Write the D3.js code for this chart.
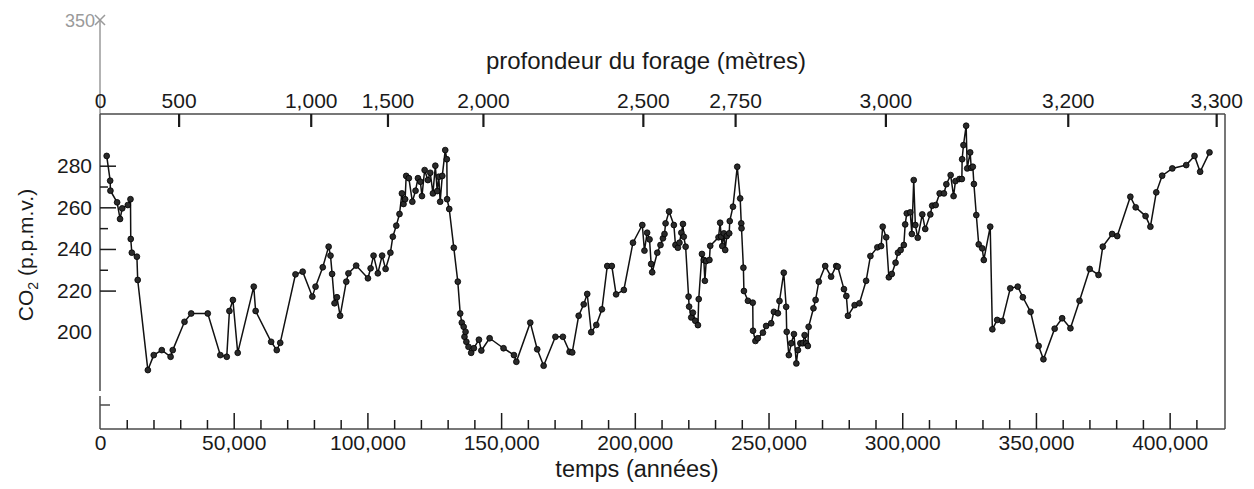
<!DOCTYPE html>
<html><head><meta charset="utf-8">
<script src="https://cdn.jsdelivr.net/npm/d3@7"></script>
<style>
html,body{margin:0;padding:0;background:#fff;}
svg{display:block;font-family:"Liberation Sans",Arial,Helvetica,sans-serif;}
</style></head>
<body><svg id="c" width="1254" height="489"></svg>
<script>
// ---- data ----
const ages = [
2500,3800,3900,6400,7500,8300,10400,11400,11500,11900,13800,14100,17900,20100,23100,26400,27200,31600,34100,40300,
45000,47400,48400,49700,51500,57500,58200,64000,66100,67400,
73100,75800,79400,80600,83300,85500,86200,86800,87700,88600,89800,92100,92900,95800,100200,101200,102300,103900,105500,106800,
108600,109500,110800,112000,112900,113500,114100,114500,115500,116800,118000,118900,119800,120400,121400,122600,123500,124500,125400,126100,
126700,127200,128000,129100,129700,129800,130600,132300,133800,134700,135300,136000,136300,136700,137000,137800,138800,139800,141700,142600,
145700,150900,154800,155700,160900,163500,165900,170300,173100,175600,176600,179000,180900,182200,183700,185600,187700,189700,191400,193000,
195900,199300,202800,203600,204600,205500,206100,206500,208400,209600,210500,211100,211500,212800,
214600,215200,216100,216700,217400,218000,218300,219000,220100,220300,221100,221700,222600,223600,223900,225100,225800,226200,226700,227900,
228200,231300,231900,232300,232700,233300,233800,234400,235300,235500,236700,238300,239400,239800,239900,240600,240800,242300,244100,244200,
245100,246000,247900,249100,251000,252000,253500,254100,255700,256600,256800,257600,258500,259500,260400,261000,261900,262800,263500,264100,
264700,265000,266800,267600,268800,271200,273400,275300,275900,278200,279100,279700,282200,284000,
286500,288100,290700,292100,292700,294000,295000,296100,297500,298400,299400,300600,301100,301700,303000,303600,304300,304900,305800,307500,
308600,310500,311200,312500,314000,315600,316500,318100,319200,319900,321400,322300,322400,322900,323900,324300,325400,325800,326400,326800,
327700,328600,329900,330500,332900,333700,335500,337400,340400,343200,345100,348000,351000,352800,357000,
359800,362900,366300,370100,373400,375000,378500,380400,385300,387300,391000,392800,395000,397200,401000,406200,409300,411400,414900
];
const co2 = [
284.7,272.8,268.0,262.4,254.4,259.5,261.1,263.9,244.8,238.2,236.3,225.1,181.8,189.0,191.4,188.2,191.4,205.0,209.0,209.0,
189.0,188.2,210.2,215.5,190.1,221.9,210.2,195.4,191.4,194.9,
227.8,229.1,217.1,221.9,231.2,241.1,236.8,228.0,213.9,216.8,207.9,224.3,228.3,232.0,225.9,230.7,236.8,228.3,236.8,230.4,
238.2,245.9,251.2,256.8,266.7,261.6,263.9,275.1,274.0,262.7,268.0,274.0,272.3,265.4,277.9,273.1,276.6,266.7,280.0,267.8,
274.7,262.7,275.1,287.5,283.1,263.9,259.2,240.6,224.3,209.0,204.6,202.6,197.8,200.2,195.4,193.0,190.1,192.3,196.4,191.2,
197.1,192.3,189.0,185.8,204.6,191.8,183.9,197.8,197.8,190.6,190.3,207.9,213.4,218.4,200.0,203.5,211.0,231.8,231.8,218.2,
220.3,243.0,251.5,239.2,247.8,244.6,232.8,228.8,238.2,241.9,245.1,247.2,252.3,258.0,
251.5,241.9,240.6,243.0,247.8,252.0,245.9,241.1,217.1,212.3,207.1,209.4,205.5,203.4,215.9,237.6,234.7,224.7,234.2,234.7,
241.5,245.6,252.6,245.9,241.4,247.5,239.5,246.2,247.5,253.4,260.3,279.5,264.3,252.3,249.9,231.0,219.8,215.1,214.2,200.7,
195.8,197.1,199.8,203.0,204.3,209.8,209.1,215.0,228.6,212.2,200.2,189.0,194.7,199.1,185.0,191.4,194.7,194.7,198.6,194.7,
193.4,202.6,211.5,215.5,224.3,231.8,226.7,231.8,231.5,220.7,217.4,207.9,213.0,213.9,
224.7,236.6,240.8,241.4,250.7,245.6,226.4,228.0,233.4,238.2,239.5,241.9,251.8,257.1,257.6,247.2,273.1,251.5,245.4,256.6,
249.6,256.6,260.8,261.1,266.7,266.7,271.1,275.5,265.4,272.6,273.6,273.6,283.1,289.9,299.2,278.7,286.4,279.0,279.5,271.2,
256.3,242.2,240.3,234.7,250.7,201.4,205.9,205.4,221.1,221.9,216.8,209.8,193.4,187.0,201.7,
206.7,201.9,215.1,230.4,227.5,241.1,247.2,246.2,265.1,260.0,255.8,250.7,267.2,275.2,278.7,280.3,284.7,277.1,286.4
];
const timeMajorTicks = [0,50000,100000,150000,200000,250000,300000,350000,400000];
const timeMinorTicks = d3.range(10000, 420000, 10000).filter(t => t % 50000 !== 0);
const co2Labels = [200,220,240,260,280];
const co2MajorTicks = [220,240,260,280];
const co2MinorTicks = [230,250,270];
const co2TopMark = 350;
const depthTicks = [0,500,1000,1500,2000,2500,2750,3000,3200,3300];
const depthAges  = [0,29400,78800,107500,143200,203000,237500,293700,361900,417400];

// ---- layout ----
const svg = d3.select("#c");
const L = 100, R = 1225, T = 114, B = 429;
const x = d3.scaleLinear().domain([0, 420700]).range([L, R]);
const y = d3.scaleLinear().domain([153.5, 350]).range([B, 20]);
const depth = d3.scaleLinear().domain(depthTicks).range(depthAges.map(x));
const FS = 21, INK = "#1a1a1a", FRAME = "#4a4a4a";

// grey upper extension to 350 mark
svg.append("line").attr("x1", L).attr("x2", L).attr("y1", y(co2TopMark)).attr("y2", T)
  .attr("stroke", "#9a9a9a").attr("stroke-width", 1.5);
const cx = L, cy = y(co2TopMark);
svg.append("path").attr("d", `M${cx-5},${cy-5}L${cx+5},${cy+5}M${cx-5},${cy+5}L${cx+5},${cy-5}`)
  .attr("stroke", "#9a9a9a").attr("stroke-width", 1.5);
svg.append("text").attr("x", cx - 5).attr("y", cy + 6.5).attr("text-anchor", "end")
  .attr("font-size", 18).attr("fill", "#9a9a9a").text(co2TopMark);

// frame
const frame = svg.append("g").attr("fill", "none").attr("stroke", FRAME).attr("stroke-width", 1.5);
frame.append("line").attr("x1", L).attr("x2", R).attr("y1", T).attr("y2", T);
frame.append("line").attr("x1", R).attr("x2", R).attr("y1", T).attr("y2", B);
frame.append("line").attr("x1", L).attr("x2", R).attr("y1", B).attr("y2", B);
frame.append("line").attr("x1", L).attr("x2", L).attr("y1", T).attr("y2", 391);
frame.append("line").attr("x1", L).attr("x2", L).attr("y1", 396).attr("y2", B);
frame.append("line").attr("x1", L).attr("x2", L + 10).attr("y1", 405).attr("y2", 405);

function styleAxis(g, sw) {
  g.select(".domain").remove();
  g.selectAll(".tick line").attr("stroke", INK).attr("stroke-width", sw);
  g.selectAll(".tick text").attr("fill", INK).attr("font-size", FS)
    .attr("font-family", '"Liberation Sans",Arial,Helvetica,sans-serif');
}

// bottom axis: minor + major ticks pointing up
svg.append("g").attr("transform", `translate(0,${B})`)
  .call(d3.axisBottom(x).tickValues(timeMinorTicks).tickSize(-9).tickFormat(""))
  .call(g => styleAxis(g, 1.5));
svg.append("g").attr("transform", `translate(0,${B})`)
  .call(d3.axisBottom(x).tickValues(timeMajorTicks).tickSize(-16).tickPadding(6).tickFormat(d3.format(",")))
  .call(g => styleAxis(g, 1.5))
  .call(g => g.selectAll(".tick line").filter(d => d === 0).remove());

// left axis: inward ticks + labels
svg.append("g").attr("transform", `translate(${L},0)`)
  .call(d3.axisLeft(y).tickValues(co2MinorTicks).tickSize(-8).tickFormat(""))
  .call(g => styleAxis(g, 1.5));
svg.append("g").attr("transform", `translate(${L},0)`)
  .call(d3.axisLeft(y).tickValues(co2MajorTicks).tickSize(-16).tickFormat(""))
  .call(g => styleAxis(g, 1.5));
svg.append("g").attr("transform", `translate(${L},0)`)
  .call(d3.axisLeft(y).tickValues(co2Labels).tickSize(0).tickPadding(8))
  .call(g => styleAxis(g, 0));

// top axis: depth (non-linear) ticks pointing down
svg.append("g").attr("transform", `translate(0,${T})`)
  .call(d3.axisTop(depth).tickValues(depthTicks).tickSize(-13).tickPadding(6).tickFormat(d3.format(",")))
  .call(g => styleAxis(g, 2.2))
  .call(g => g.selectAll(".tick line").filter(d => d === 0).remove());

// titles
svg.append("text").attr("x", 646).attr("y", 69).attr("text-anchor", "middle")
  .attr("font-size", 24).attr("fill", INK).text("profondeur du forage (mètres)");
svg.append("text").attr("x", 637).attr("y", 477).attr("text-anchor", "middle")
  .attr("font-size", 23.5).attr("fill", INK).text("temps (années)");
const yt = svg.append("text").attr("transform", "translate(33,255) rotate(-90)")
  .attr("text-anchor", "middle").attr("font-size", 21).attr("fill", INK);
yt.append("tspan").text("CO");
yt.append("tspan").attr("font-size", 14).attr("dy", 5).text("2");
yt.append("tspan").attr("dy", -5).text(" (p.p.m.v.)");

// series
const pts = ages.map((a, i) => [a, co2[i]]);
svg.append("path").datum(pts)
  .attr("fill", "none").attr("stroke", "#111").attr("stroke-width", 1.5)
  .attr("d", d3.line().x(d => x(d[0])).y(d => y(d[1])));
svg.append("g").selectAll("circle").data(pts).join("circle")
  .attr("cx", d => x(d[0])).attr("cy", d => y(d[1])).attr("r", 2.9)
  .attr("fill", "#2a2a2a").attr("stroke", "#000").attr("stroke-width", 0.8);
</script></body></html>
